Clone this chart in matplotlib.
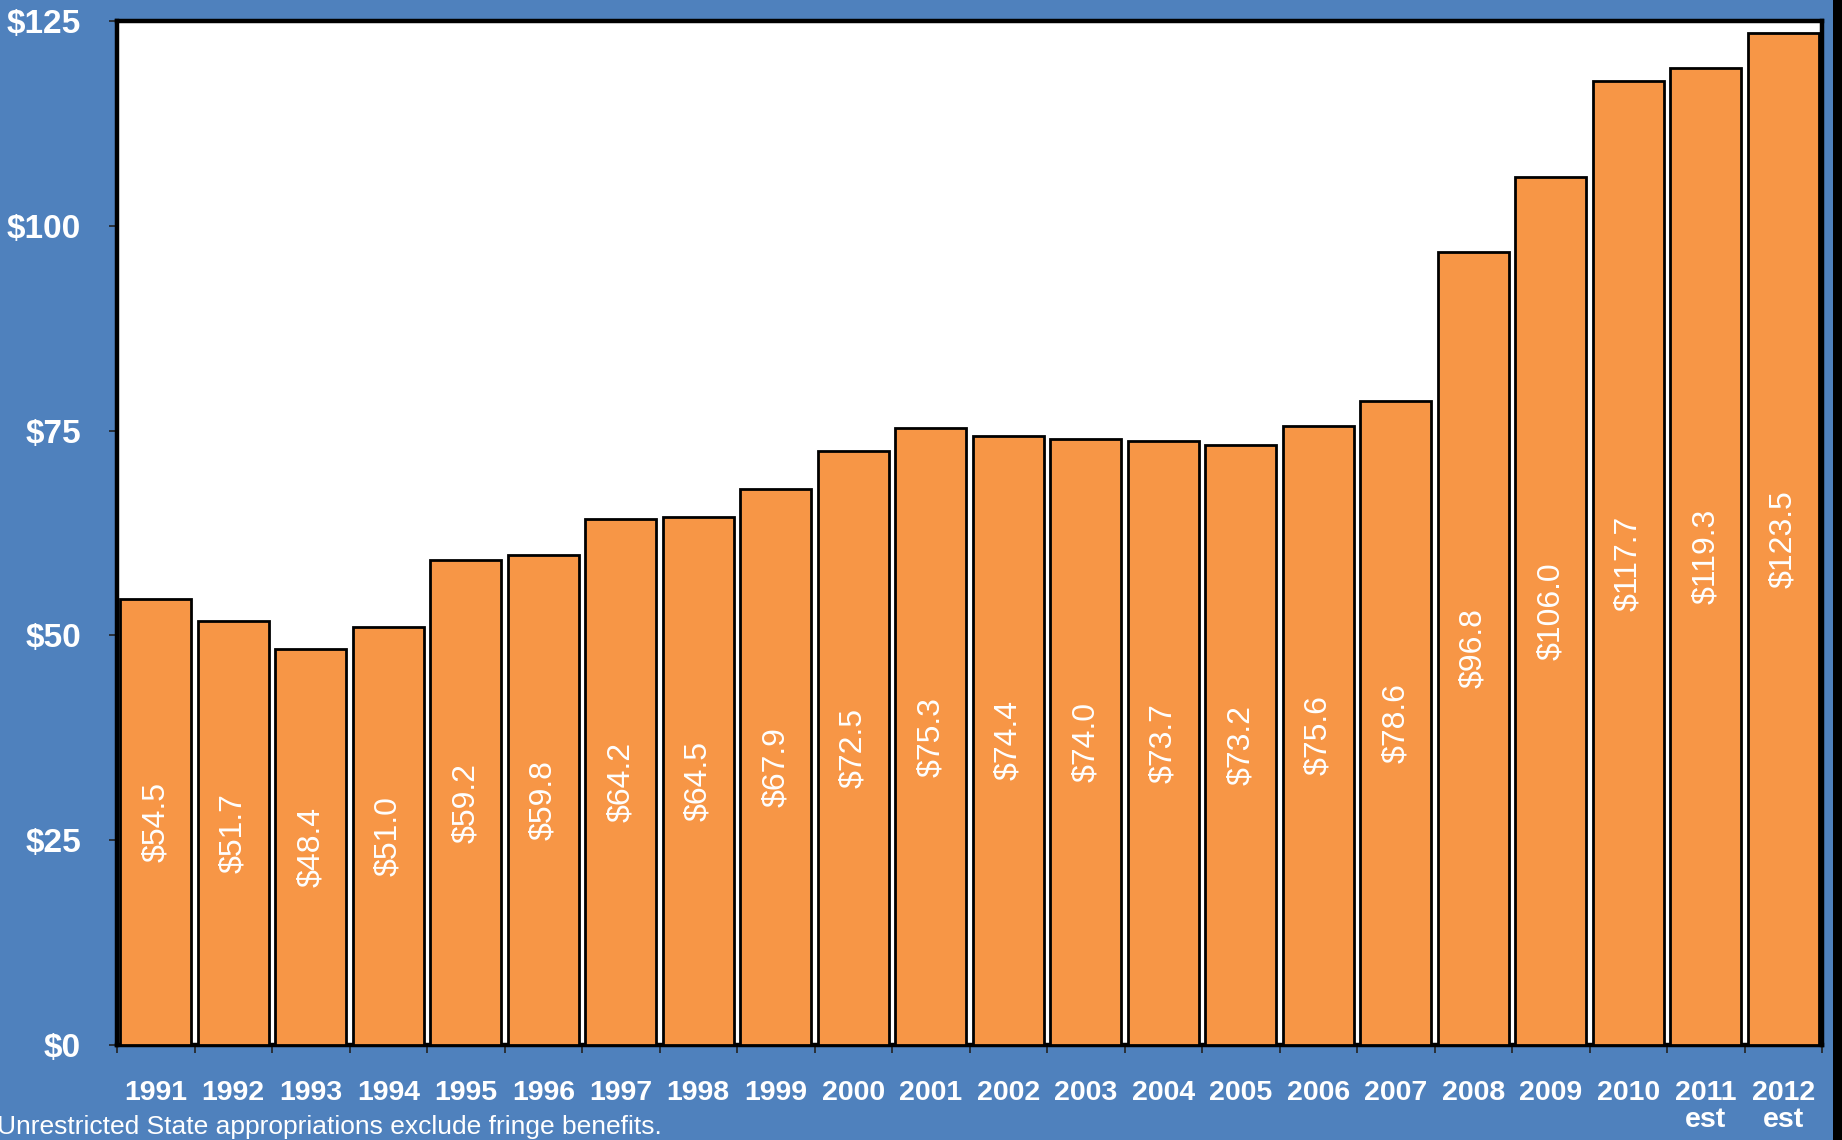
import matplotlib
matplotlib.use("Agg")
import matplotlib.pyplot as plt
from matplotlib.patches import Rectangle

years = ["1991", "1992", "1993", "1994", "1995", "1996", "1997", "1998", "1999", "2000",
         "2001", "2002", "2003", "2004", "2005", "2006", "2007", "2008", "2009", "2010",
         "2011\nest", "2012\nest"]
values = [54.5, 51.7, 48.4, 51.0, 59.2, 59.8, 64.2, 64.5, 67.9, 72.5,
          75.3, 74.4, 74.0, 73.7, 73.2, 75.6, 78.6, 96.8, 106.0, 117.7,
          119.3, 123.5]
yticks = [0, 25, 50, 75, 100, 125]
ytick_labels = ["$0", "$25", "$50", "$75", "$100", "$125"]
footnote = "Unrestricted State appropriations exclude fringe benefits."

plt.rcParams['font.family'] = ['Liberation Sans', 'DejaVu Sans']

BG = "#4F81BD"
BAR = "#F79646"
W, H = 1842, 1140
fig = plt.figure(figsize=(W / 100, H / 100), dpi=100)
fig.patch.set_facecolor(BG)

left, right, top, bottom = 117, 1822, 21, 1045
ax = fig.add_axes([left / W, (H - bottom) / H, (right - left) / W, (bottom - top) / H])
ax.set_facecolor("white")

x = list(range(len(values)))
ax.bar(x, values, width=0.92, color=BAR, edgecolor="black", linewidth=2, zorder=3)

for xi, v in zip(x, values):
    ax.text(xi, v / 2, f"${v:.1f}", rotation=90, ha="center", va="center",
            color="white", fontsize=23, zorder=4)

ax.set_xlim(-0.5, len(values) - 0.5)
ax.set_ylim(0, 125)

ax.set_yticks(yticks)
ax.set_yticklabels(ytick_labels, color="white", fontsize=24, fontweight="bold")
ax.tick_params(axis="y", direction="out", length=6, width=1.2, color="#222222", pad=20)

ax.set_xticks([i - 0.5 for i in range(len(values) + 1)])
ax.set_xticklabels([])
ax.set_xticks(x, minor=True)
ax.set_xticklabels(years, minor=True, color="white", fontsize=20.5, fontweight="bold",
                   linespacing=1.05, va="top")
ax.tick_params(axis="x", which="major", direction="out", length=6, width=1.2, color="#222222")
ax.tick_params(axis="x", which="minor", length=0, pad=25)

for s in ax.spines.values():
    s.set_linewidth(3.2)
    s.set_color("black")

fig.text(-3 / W, (H - 1134) / H, footnote, color="white", fontsize=19,
         ha="left", va="baseline")

fig.patches.append(Rectangle((1833 / W, 0), 1 - 1833 / W, 1, transform=fig.transFigure,
                             facecolor="black", edgecolor="none", zorder=0))

fig.savefig("out.png", dpi=100, facecolor=fig.get_facecolor())
